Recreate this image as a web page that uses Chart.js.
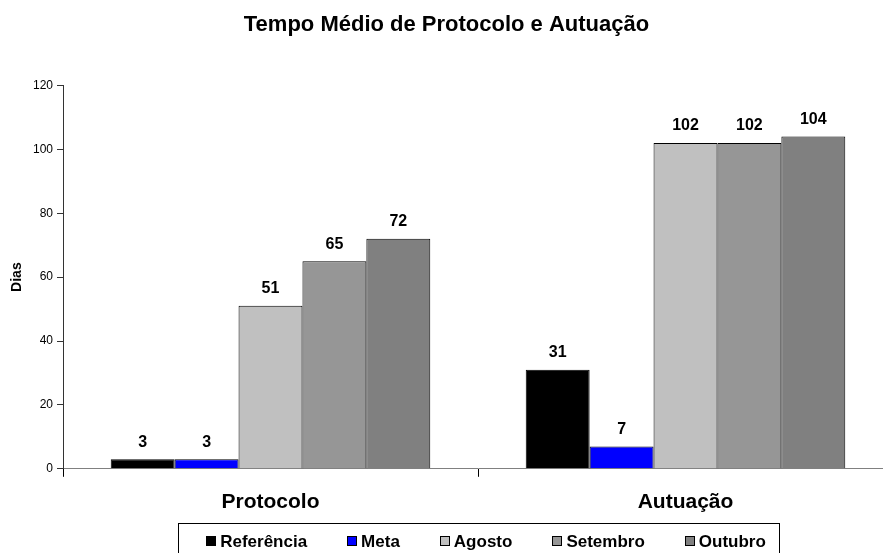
<!DOCTYPE html>
<html lang="pt">
<head>
    <meta charset="UTF-8">
    <title>Tempo Médio de Protocolo e Autuação</title>
    <script src="https://cdn.jsdelivr.net/npm/chart.js"></script>
    <style>
        html, body {
            margin: 0;
            padding: 0;
            background: #fff;
            overflow: hidden;
        }
        canvas {
            display: block;
        }
    </style>
</head>
<body>
    <canvas id="tempoChart" width="910" height="553"></canvas>
    <script>
        // --- Data ---
        const categories = ['Protocolo', 'Autuação'];
        const seriesNames = ['Referência', 'Meta', 'Agosto', 'Setembro', 'Outubro'];
        const referencia = [3, 31];
        const meta = [3, 7];
        const agosto = [51, 102];
        const setembro = [65, 102];
        const outubro = [72, 104];
        const yTicks = [0, 20, 40, 60, 80, 100, 120];

        const seriesValues = [referencia, meta, agosto, setembro, outubro];
        const seriesColors = ['#000000', '#0000FF', '#C0C0C0', '#969696', '#808080'];

        const fontFamily = 'Arial, "Liberation Sans", sans-serif';

        // value labels above each bar
        const valueLabels = {
            id: 'valueLabels',
            afterDatasetsDraw(chart) {
                const ctx = chart.ctx;
                ctx.save();
                ctx.font = 'bold 16px ' + fontFamily;
                ctx.fillStyle = '#000';
                ctx.textAlign = 'center';
                ctx.textBaseline = 'middle';
                chart.data.datasets.forEach((ds, i) => {
                    chart.getDatasetMeta(i).data.forEach((bar, j) => {
                        ctx.fillText(ds.data[j], bar.x, bar.y - 17);
                    });
                });
                ctx.restore();
            }
        };

        // boxed legend under the category labels
        const boxedLegend = {
            id: 'boxedLegend',
            afterDraw(chart) {
                const ctx = chart.ctx;
                const area = chart.chartArea;
                const mid = (area.left + area.right) / 2;
                const boxW = 601, top = 523;
                ctx.save();
                ctx.strokeStyle = '#000';
                ctx.lineWidth = 1;
                ctx.strokeRect(Math.round(mid - boxW / 2) + 0.5, top + 0.5, boxW, 60);

                ctx.font = 'bold 17px ' + fontFamily;
                const sq = 10, gapText = 4, gapItem = 40;
                const widths = chart.data.datasets.map(ds => sq + gapText + ctx.measureText(ds.label).width);
                const total = widths.reduce((a, b) => a + b, 0) + gapItem * (widths.length - 1);
                let x = mid + 8 - total / 2;
                const cy = 541;
                ctx.textBaseline = 'middle';
                ctx.textAlign = 'left';
                chart.data.datasets.forEach((ds, i) => {
                    ctx.fillStyle = ds.backgroundColor;
                    ctx.fillRect(Math.round(x), cy - 5, sq, sq);
                    ctx.strokeStyle = '#000';
                    ctx.strokeRect(Math.round(x) + 0.5, cy - 5 + 0.5, sq - 1, sq - 1);
                    ctx.fillStyle = '#000';
                    ctx.fillText(ds.label, x + sq + gapText, cy + 1);
                    x += widths[i] + gapItem;
                });
                ctx.restore();
            }
        };

        new Chart(document.getElementById('tempoChart'), {
            type: 'bar',
            data: {
                labels: categories,
                datasets: seriesNames.map((name, i) => ({
                    label: name,
                    data: seriesValues[i],
                    backgroundColor: seriesColors[i],
                    borderColor: '#000',
                    borderWidth: 1,
                    categoryPercentage: 0.77,
                    barPercentage: 1.0
                }))
            },
            options: {
                responsive: false,
                animation: false,
                layout: {
                    padding: { left: 0, right: 17, top: 0, bottom: 25 }
                },
                plugins: {
                    legend: { display: false },
                    tooltip: { enabled: false },
                    title: {
                        display: true,
                        text: 'Tempo Médio de Protocolo e Autuação',
                        color: '#000',
                        font: { family: fontFamily, size: 22, weight: 'bold' },
                        padding: { top: 12, bottom: 47 }
                    }
                },
                scales: {
                    x: {
                        grid: {
                            display: true,
                            drawOnChartArea: false,
                            tickLength: 8,
                            color: '#000',
                            offset: true
                        },
                        border: { color: '#808080', width: 1 },
                        ticks: {
                            color: '#000',
                            padding: 13,
                            font: { family: fontFamily, size: 21, weight: 'bold' }
                        }
                    },
                    y: {
                        min: 0,
                        max: 120,
                        afterFit(scale) { scale.width = 63; },
                        afterBuildTicks(scale) { scale.ticks = yTicks.map(v => ({ value: v })); },
                        grid: {
                            drawOnChartArea: false,
                            tickLength: 6,
                            color: '#333'
                        },
                        border: { color: '#333', width: 1 },
                        ticks: {
                            color: '#000',
                            padding: 4,
                            font: { family: fontFamily, size: 12 }
                        },
                        title: {
                            display: true,
                            text: 'Dias',
                            color: '#000',
                            font: { family: fontFamily, size: 14, weight: 'bold' },
                            padding: { top: 9, bottom: 0 }
                        }
                    }
                }
            },
            plugins: [valueLabels, boxedLegend]
        });
    </script>
</body>
</html>
